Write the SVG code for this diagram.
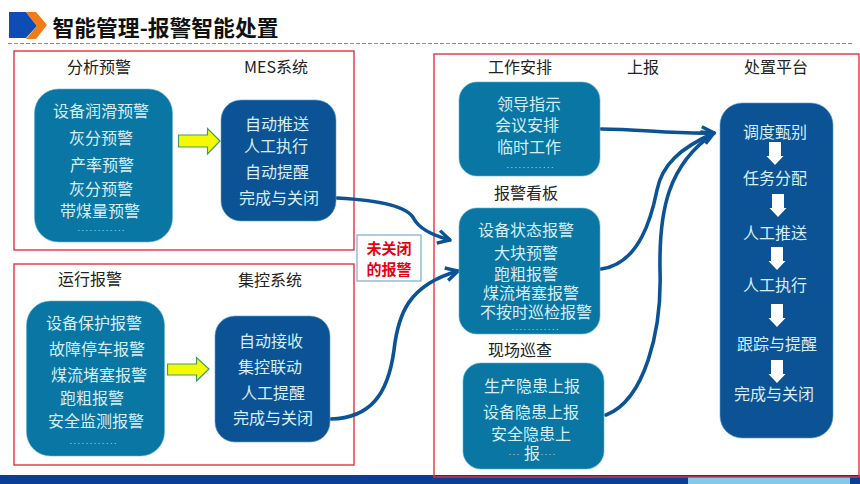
<svg xmlns="http://www.w3.org/2000/svg" width="860" height="484" viewBox="0 0 860 484">
<style>
text{font-family:"Noto Sans CJK SC","Liberation Sans",sans-serif;text-anchor:middle}
.h{font-size:16px;fill:#222}
.t{font-size:16px;fill:#d6eef6}
.d{font-size:7px;letter-spacing:2.1px;fill:#d6eef6}
.frame{fill:none;stroke:#e3343c;stroke-width:1.4}
.teal{fill:#0a76a3;stroke:#5fb4d0;stroke-width:.6}
.navy{fill:#0b5394;stroke:#5fa0c8;stroke-width:.6}
.c{fill:none;stroke:#0b5394;stroke-width:3.600;stroke-linecap:round}
.y{fill:#f6fa00;stroke:#3f9e6a;stroke-width:1.2}
.w{fill:#fff}
</style>
<defs>
<marker id="a" viewBox="0 0 16 16" refX="15" refY="8" markerWidth="16" markerHeight="16" markerUnits="userSpaceOnUse" orient="auto"><path d="M3 1.500L15 8L3 14.500" fill="none" stroke="#0b5394" stroke-width="3.400"/></marker>
<path id="down" d="M-6-23H6V-9H8.500L0 0L-8.500-9H-6Z" class="w"/>
</defs>
<rect width="860" height="484" fill="#fff"/>
<g id="header">
<path d="M9 12H26L37 26L26 38H9Z" fill="#0e4db4"/>
<path d="M26 12H36L47 25L36 39H26L37 26Z" fill="#f47b14"/>
<text x="165.500" y="36" style="font-size:21.800px;font-weight:700;fill:#111">智能管理-报警智能处置</text>
<line x1="8" y1="43.500" x2="852" y2="43.500" stroke="#5b9bc9" stroke-width="1" stroke-dasharray="4 2"/>
</g>
<g id="footer">
<rect y="475" width="860" height="9" fill="#0a3f95"/>
<rect x="688" y="477" width="162" height="7" fill="#85c9ea"/>
</g>
<g id="frames">
<rect class="frame" x="14" y="51" width="340" height="199"/>
<rect class="frame" x="14" y="264" width="340" height="201"/>
<rect class="frame" x="434" y="54" width="425" height="423"/>
</g>
<g id="connectors">
<path class="c" d="M337 198C375 200 408 206 414 219C420 230 435 236 450 240" marker-end="url(#a)"/>
<path class="c" d="M331 419C370 418 388 395 394 350C398 315 408 285 458 271" marker-end="url(#a)"/>
<path class="c" d="M601 129C640 129 670 134 714 133" marker-end="url(#a)"/>
<path class="c" d="M601 269C640 264 652 215 657 190C662 165 680 148 714 133" marker-end="url(#a)"/>
<path class="c" d="M606 415C645 400 662 330 660 270C659 210 668 165 714 133"/>
</g>
<g id="analysis-warning">
<text class="h" x="99" y="73">分析预警</text>
<rect class="teal" x="34.500" y="89" width="138" height="153" rx="24"/>
<text class="t" x="101" y="117">设备润滑预警</text>
<text class="t" x="101" y="144">灰分预警</text>
<text class="t" x="102" y="171">产率预警</text>
<text class="t" x="101" y="195">灰分预警</text>
<text class="t" x="100" y="217">带煤量预警</text>
<text class="d" x="102" y="231">............</text>
</g>
<g id="mes-system">
<text class="h" x="276" y="73">MES系统</text>
<rect class="navy" x="221" y="100" width="115" height="121" rx="20"/>
<text class="t" x="277" y="130">自动推送</text>
<text class="t" x="276" y="152">人工执行</text>
<text class="t" x="277" y="178">自动提醒</text>
<text class="t" x="279" y="204">完成与关闭</text>
</g>
<path id="arrow-1" class="y" d="M178.500 135H207.500V128.500L220 141L207.500 154V147H178.500Z"/>
<g id="running-alarm">
<text class="h" x="90" y="285">运行报警</text>
<rect class="teal" x="26.500" y="301" width="138" height="155" rx="24"/>
<text class="t" x="94" y="329">设备保护报警</text>
<text class="t" x="97" y="355">故障停车报警</text>
<text class="t" x="99" y="381">煤流堵塞报警</text>
<text class="t" x="92" y="404">跑粗报警</text>
<text class="t" x="96" y="427">安全监测报警</text>
<text class="d" x="94" y="444">............</text>
</g>
<g id="central-control">
<text class="h" x="270" y="286">集控系统</text>
<rect class="navy" x="215" y="316" width="115" height="126" rx="20"/>
<text class="t" x="271" y="347">自动接收</text>
<text class="t" x="270" y="373">集控联动</text>
<text class="t" x="273" y="399">人工提醒</text>
<text class="t" x="273" y="424">完成与关闭</text>
</g>
<path id="arrow-2" class="y" d="M167.500 364H196.500V357.500L209 369L196.500 381V375H167.500Z"/>
<g id="unclosed-alarm">
<rect x="357" y="235" width="64" height="46" fill="#fff" stroke="#5b9bc9" stroke-width="1"/>
<text x="389" y="254" style="font-size:15px;font-weight:700;fill:#e60012">未关闭</text>
<text x="389" y="275" style="font-size:15px;font-weight:700;fill:#e60012">的报警</text>
</g>
<g id="work-arrangement">
<text class="h" x="520" y="73">工作安排</text>
<rect class="teal" x="459" y="82" width="141" height="94" rx="18"/>
<text class="t" x="529" y="110">领导指示</text>
<text class="t" x="527" y="131">会议安排</text>
<text class="t" x="529" y="153">临时工作</text>
<text class="d" x="531" y="168">............</text>
</g>
<text id="report-label" class="h" x="643" y="73">上报</text>
<g id="alarm-board">
<text class="h" x="526" y="199">报警看板</text>
<rect class="teal" x="459" y="208" width="141" height="126" rx="18"/>
<text class="t" x="526" y="236">设备状态报警</text>
<text class="t" x="526" y="259">大块预警</text>
<text class="t" x="526" y="280">跑粗报警</text>
<text class="t" x="531" y="299">煤流堵塞报警</text>
<text class="t" x="536" y="318">不按时巡检报警</text>
<text class="d" x="536" y="330">............</text>
</g>
<g id="site-inspection">
<text class="h" x="520" y="356">现场巡查</text>
<rect class="teal" x="463" y="363" width="141" height="106" rx="18"/>
<text class="t" x="532" y="392">生产隐患上报</text>
<text class="t" x="531" y="418">设备隐患上报</text>
<text class="t" x="531" y="440">安全隐患上</text>
<text class="t" x="532" y="459">报</text>
<text class="d" x="515" y="455">...</text>
<text class="d" x="547" y="455">.....</text>
</g>
<g id="platform">
<text class="h" x="776" y="73">处置平台</text>
<rect class="navy" x="720" y="103" width="113" height="335" rx="22"/>
<text class="t" x="775" y="138">调度甄别</text>
<use href="#down" x="775" y="165"/>
<text class="t" x="775" y="184">任务分配</text>
<use href="#down" x="778" y="217"/>
<text class="t" x="775" y="239">人工推送</text>
<use href="#down" x="777" y="270"/>
<text class="t" x="775" y="291">人工执行</text>
<use href="#down" x="777" y="327"/>
<text class="t" x="777" y="350">跟踪与提醒</text>
<use href="#down" x="777" y="383"/>
<text class="t" x="774" y="400">完成与关闭</text>
</g>
</svg>
